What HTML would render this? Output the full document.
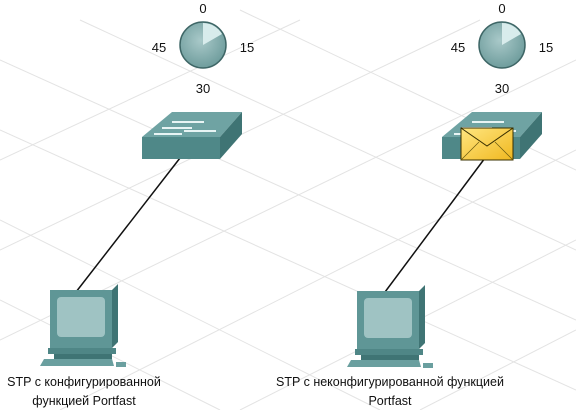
<!DOCTYPE html>
<html><head><meta charset="utf-8"><style>
html,body{margin:0;padding:0;background:#fff;}
svg{display:block;}
text{font-family:"Liberation Sans",Arial,sans-serif;fill:#111;}
</style></head><body>
<svg width="576" height="410" viewBox="0 0 576 410" xmlns="http://www.w3.org/2000/svg">
<defs>
<radialGradient id="clk" cx="0.45" cy="0.4" r="0.6"><stop offset="0" stop-color="#a9c9c9"/><stop offset="1" stop-color="#6f9d9d"/></radialGradient>
<linearGradient id="env" x1="0" y1="0" x2="1" y2="1"><stop offset="0" stop-color="#ffe680"/><stop offset="1" stop-color="#f0b820"/></linearGradient>
<g id="clock">
<circle r="23" fill="url(#clk)" stroke="#3e6666" stroke-width="1.5"/>
<path d="M0,0 L0,-22 A22,22 0 0 1 19,-11 Z" fill="#d8ecec"/>
</g>
<g id="sw">
<polygon points="0,25 30,0 100,0 78,25" fill="#6fa3a3"/>
<polygon points="0,25 78,25 78,47 0,47" fill="#4f8888"/>
<polygon points="78,25 100,0 100,22 78,47" fill="#3f7474"/>
<g stroke="#e8f4f4" stroke-width="2">
<line x1="30" y1="10" x2="62" y2="10"/><line x1="20" y1="16" x2="50" y2="16"/>
<line x1="42" y1="19" x2="74" y2="19"/><line x1="12" y1="22" x2="40" y2="22"/>
</g>
</g>
<g id="pc">
<polygon points="10,0 72,0 78,-6 78,52 72,58 10,58" fill="#3f7474"/>
<rect x="10" y="0" width="62" height="58" fill="#5f9696"/>
<rect x="17" y="7" width="48" height="40" rx="4" fill="#9fc3c3"/>
<rect x="8" y="58" width="68" height="6" fill="#4f8686"/>
<rect x="14" y="64" width="58" height="5" fill="#3f7474"/>
<polygon points="4,69 72,69 74,76 0,76" fill="#6a9f9f"/>
<rect x="76" y="72" width="10" height="5" fill="#6a9f9f"/>
</g>
</defs>
<g stroke="#e3e3e3" stroke-width="1" fill="none">
<line x1="0" y1="130" x2="576" y2="390"/><line x1="0" y1="60" x2="576" y2="320"/>
<line x1="80" y1="20" x2="576" y2="250"/><line x1="240" y1="10" x2="576" y2="170"/>
<line x1="0" y1="220" x2="380" y2="410"/><line x1="0" y1="300" x2="220" y2="410"/>
<line x1="0" y1="340" x2="576" y2="60"/><line x1="60" y1="410" x2="576" y2="150"/>
<line x1="0" y1="250" x2="480" y2="20"/><line x1="0" y1="160" x2="300" y2="20"/>
<line x1="240" y1="410" x2="576" y2="240"/><line x1="420" y1="410" x2="576" y2="330"/>
</g>
<use href="#clock" x="203" y="45"/>
<use href="#clock" x="502" y="45"/>
<g font-size="13" text-anchor="middle">
<text x="203" y="13">0</text><text x="159" y="52">45</text><text x="247" y="52">15</text><text x="203" y="93">30</text>
<text x="502" y="13">0</text><text x="458" y="52">45</text><text x="546" y="52">15</text><text x="502" y="93">30</text>
</g>
<line x1="180" y1="158" x2="76" y2="292" stroke="#111" stroke-width="1.5"/>
<line x1="485" y1="158" x2="385" y2="292" stroke="#111" stroke-width="1.5"/>
<use href="#sw" x="142" y="112"/>
<use href="#sw" x="442" y="112"/>
<g transform="translate(461,128)">
<rect width="52" height="32" fill="url(#env)" stroke="#3a3000" stroke-width="1"/>
<polyline points="0,0 26,18 52,0" fill="none" stroke="#3a3000" stroke-width="1"/>
<line x1="0" y1="32" x2="18" y2="14" stroke="#6a5a10" stroke-width="0.7"/>
<line x1="52" y1="32" x2="34" y2="14" stroke="#6a5a10" stroke-width="0.7"/>
</g>
<use href="#pc" x="40" y="290"/>
<use href="#pc" x="347" y="291"/>
<g font-size="12.5" text-anchor="middle">
<text x="84" y="386">STP с конфигурированной</text>
<text x="84" y="405">функцией Portfast</text>
<text x="390" y="386">STP с неконфигурированной функцией</text>
<text x="390" y="405">Portfast</text>
</g>
</svg>
</body></html>
